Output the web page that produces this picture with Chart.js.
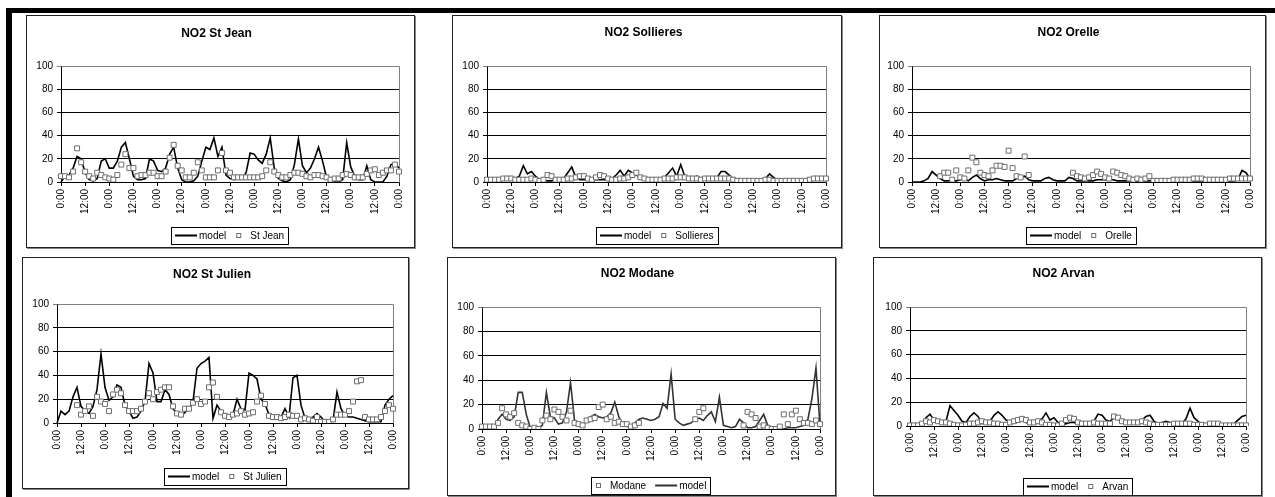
<!DOCTYPE html>
<html>
<head>
<meta charset="utf-8">
<script src="https://cdn.jsdelivr.net/npm/chart.js@4.4.1/dist/chart.umd.min.js"></script>
<style>
  body { margin: 0; background: #fff; width: 1275px; height: 497px; overflow: hidden; position: relative; }
  .bar { position: absolute; background: #000; }
  .panel { position: absolute; box-sizing: border-box; border: 1px solid #222; box-shadow: 1px 1px 0 #888; background: #fff; }
  .panel canvas { position: absolute; left: 0; top: 0; }
</style>
</head>
<body>
<div class="bar" style="left:6px;top:8px;width:1269px;height:5px"></div>
<div class="bar" style="left:6px;top:8px;width:6px;height:489px"></div>
<script>
// hourly offsets over the 7 days, one value every 2 hours
const HOURS = Array.from({ length: 85 }, (_, i) => i * 2);
const timeLabels = HOURS.map(h => (h % 24) + ':00');

// NO2 values, one row per day (0:00 .. 22:00), last value = final 0:00
const stJeanModel = [
  0, 5, 6, 12, 22, 20, 8, 2, 1, 3, 18, 20,
  12, 12, 18, 30, 34, 20, 5, 2, 2, 3, 20, 18,
  10, 9, 12, 24, 30, 12, 2, 0, 0, 1, 5, 18,
  30, 28, 38, 22, 30, 6, 3, 2, 3, 3, 8, 25,
  24, 19, 16, 24, 38, 12, 3, 1, 0, 2, 15, 37,
  14, 8, 12, 20, 30, 18, 4, 0, 0, 0, 2, 34,
  13, 5, 2, 2, 14, 2, 0, 0, 0, 5, 15, 16,
  12
];
const stJeanObs = [
  5, 5, 4, 9, 29, 17, 9, 5, 3, 8, 6, 4,
  3, 2, 6, 15, 24, 12, 12, 5, 6, 6, 8, 8,
  5, 5, 9, 21, 32, 14, 10, 4, 4, 8, 17, 10,
  4, 4, 4, 10, 25, 10, 8, 4, 4, 4, 4, 4,
  4, 4, 5, 10, 17, 9, 6, 4, 4, 6, 8, 8,
  7, 5, 4, 6, 6, 5, 4, 2, 3, 3, 6, 7,
  6, 4, 4, 4, 7, 10, 11, 6, 8, 10, 10, 15,
  9
];
const sollieresModel = [
  1, 1, 1, 2, 2, 2, 2, 3, 5, 14, 7, 9,
  5, 2, 1, 1, 1, 2, 2, 3, 8, 13, 4, 2,
  2, 2, 2, 2, 2, 2, 2, 3, 6, 10, 5, 10,
  8, 6, 4, 3, 2, 2, 2, 2, 4, 8, 12, 5,
  15, 5, 3, 3, 5, 3, 4, 3, 4, 4, 9, 9,
  6, 3, 1, 1, 1, 1, 1, 1, 1, 3, 7, 4,
  1, 1, 1, 1, 1, 1, 1, 1, 1, 2, 3, 3,
  3
];
const sollieresObs = [
  2, 2, 2, 2, 3, 3, 3, 2, 2, 2, 2, 3,
  2, 1, 2, 6, 5, 2, 2, 2, 3, 3, 4, 5,
  5, 3, 2, 4, 6, 5, 3, 2, 2, 3, 3, 4,
  6, 8, 4, 3, 2, 2, 2, 2, 3, 3, 3, 4,
  4, 4, 3, 3, 3, 2, 3, 3, 3, 3, 3, 3,
  3, 2, 1, 1, 1, 1, 1, 1, 1, 2, 2, 1,
  1, 1, 1, 1, 1, 1, 1, 1, 2, 3, 3, 3,
  3
];
const orelleModel = [
  0, 0, 0, 1, 3, 9, 6, 3, 1, 1, 1, 1,
  2, 3, 1, 4, 6, 3, 1, 2, 2, 3, 2, 1,
  1, 1, 3, 4, 5, 2, 1, 1, 1, 3, 4, 2,
  1, 1, 1, 4, 3, 1, 1, 1, 1, 1, 2, 2,
  2, 2, 2, 1, 1, 1, 1, 1, 1, 1, 1, 1,
  1, 1, 1, 1, 1, 1, 1, 1, 1, 1, 1, 1,
  1, 1, 1, 1, 1, 1, 1, 1, 1, 2, 10, 8,
  3
];
const orelleObs = [
  null, null, null, null, null, null, null, 5, 8, 8, 2, 10,
  4, 3, 10, 21, 17, 8, 6, 5, 10, 14, 14, 13,
  27, 12, 5, 4, 22, 6, null, null, null, null, null, null,
  null, null, null, null, 8, 5, 4, 3, 4, 6, 9, 7,
  4, 3, 9, 8, 6, 5, 3, 2, 3, 2, 3, 5,
  1, 1, 1, 1, 1, 2, 2, 2, 2, 2, 3, 3,
  3, 2, 2, 2, 2, 2, 2, 3, 3, 3, 3, 3,
  3
];
const stJulienModel = [
  0, 10, 7, 10, 22, 30, 14, 10, 8, 14, 28, 58,
  30, 19, 22, 32, 30, 15, 10, 4, 5, 10, 18, 50,
  42, 18, 18, 28, 24, 12, 8, 6, 9, 12, 18, 46,
  50, 52, 55, 4, 15, 10, 7, 6, 7, 20, 12, 11,
  42, 40, 37, 20, 16, 7, 5, 5, 5, 12, 5, 38,
  40, 15, 4, 2, 5, 8, 5, 1, 1, 2, 26, 12,
  6, 5, 5, 4, 3, 2, 1, 1, 1, 1, 15, 20,
  23
];
const stJulienObs = [
  null, null, null, null, null, 15, 7, 10, 14, 6, 22, 18,
  16, 10, 24, 28, 25, 15, 10, 10, 10, 12, 18, 25,
  20, 26, 28, 30, 30, 14, 8, 7, 12, 12, 17, 20,
  16, 18, 30, 34, 22, 9, 6, 5, 7, 8, 10, 7,
  8, 9, 18, 23, 16, 6, 5, 5, 4, 5, 7, 6,
  6, 3, 4, 3, 2, 5, 1, 1, 1, 3, 7, 7,
  7, 10, 18, 35, 36, 5, 3, 3, 3, 5, 10, 15,
  12
];
const modaneObs = [
  2, 2, 2, 2, 5, 17, 12, 10, 13, 5, 3, 2,
  0, 1, 0, 7, 11, 8, 16, 14, 10, 7, 15, 5,
  4, 3, 7, 8, 9, 18, 20, 8, 10, 5, 6, 4,
  4, 2, 3, 5, null, null, null, null, null, null, null, null,
  null, null, null, null, null, 8, 14, 17, null, null, null, null,
  null, null, null, null, null, 3, 14, 12, 9, 2, 3, 1,
  0, 0, 2, 12, 4, 12, 15, 8, 5, 5, 4, 7,
  4
];
const modaneModel = [
  1, 1, 1, 2, 8, 12, 8, 7, 10, 30, 30, 12,
  1, 1, 1, 3, 30, 10, 9, 4, 5, 14, 38, 7,
  3, 3, 7, 10, 12, 10, 9, 10, 13, 22, 10, 3,
  2, 2, 5, 8, 9, 8, 7, 8, 10, 21, 17, 45,
  8, 5, 3, 4, 5, 8, 9, 7, 11, 14, 6, 26,
  3, 2, 1, 2, 8, 5, 1, 1, 2, 7, 12, 3,
  1, 0, 0, 0, 1, 1, 1, 2, 3, 8, 25, 50,
  3
];
const arvanModel = [
  0, 0, 0, 2, 7, 10, 5, 3, 2, 4, 17, 13,
  9, 4, 3, 8, 11, 8, 2, 3, 4, 9, 12, 9,
  5, 4, 5, 6, 6, 3, 2, 3, 4, 6, 11, 5,
  7, 3, 1, 2, 3, 3, 2, 2, 2, 3, 4, 10,
  9, 5, 4, 7, 6, 3, 3, 3, 4, 4, 5, 8,
  9, 4, 2, 3, 4, 3, 2, 2, 2, 6, 15, 7,
  4, 1, 0, 0, 0, 0, 0, 0, 1, 2, 5, 8,
  9
];
const arvanObs = [
  0.5, 0.5, 0.5, 2, 4, 3, 5, 4, 3, 3, 2, 1,
  0.5, 0.5, 1, 2, 2, 3, 4, 3, 3, 2, 2, 1,
  1, 3, 4, 5, 6, 5, 3, 3, 4, 3, 1, 1,
  0.5, 0.5, 2, 5, 7, 6, 3, 2, 2, 2, 3, 2,
  2, 2, 2, 8, 7, 4, 3, 3, 3, 3, 4, 3,
  2, 1, 1, 1, 1, 1, 2, 2, 2, 2, 2, 1,
  1, 1, 0.5, 2, 2, 2, 0.5, 0.5, 0.5, 0.5, 0.5, 0.5,
  0.5
];

// page layout: box [x, y, w, h], plot [left, top, right, bottom]
const panels = [
  { title: 'NO2 St Jean', box: [26, 15, 389, 233], plot: [61, 66, 406, 182], titleY: 34, legendY: 235,
    series: [['model', stJeanModel, 'line'], ['St Jean', stJeanObs, 'obs']] },
  { title: 'NO2 Sollieres', box: [452, 15, 390, 233], plot: [487, 66, 834, 182], titleY: 33, legendY: 235,
    series: [['model', sollieresModel, 'line'], ['Sollieres', sollieresObs, 'obs']] },
  { title: 'NO2 Orelle', box: [879, 15, 387, 233], plot: [912, 66, 1257, 182], titleY: 33, legendY: 235,
    series: [['model', orelleModel, 'line'], ['Orelle', orelleObs, 'obs']] },
  { title: 'NO2 St Julien', box: [22, 257, 387, 232], plot: [57, 304, 401, 423], titleY: 275, legendY: 476,
    series: [['model', stJulienModel, 'line'], ['St Julien', stJulienObs, 'obs']] },
  { title: 'NO2 Modane', box: [447, 257, 389, 239], plot: [482, 307, 827, 429], titleY: 274, legendY: 485,
    series: [['Modane', modaneObs, 'obs'], ['model', modaneModel, 'line']], lineColor: '#333' },
  { title: 'NO2 Arvan', box: [873, 257, 389, 239], plot: [910, 307, 1253, 426], titleY: 274, legendY: 486,
    series: [['model', arvanModel, 'line'], ['Arvan', arvanObs, 'obs']] }
];

const FONT = '"Liberation Sans", Arial, sans-serif';
Chart.defaults.font.family = FONT;
Chart.defaults.color = '#000';

// gray plot border on top / right like Excel
const plotFrame = {
  id: 'plotFrame',
  beforeDatasetsDraw(chart) {
    const { ctx, chartArea: a } = chart;
    ctx.save();
    ctx.strokeStyle = '#808080';
    ctx.lineWidth = 1;
    ctx.beginPath();
    ctx.moveTo(Math.round(a.left) + 0.5, Math.round(a.top) + 0.5);
    ctx.lineTo(Math.round(a.right) + 0.5, Math.round(a.top) + 0.5);
    ctx.lineTo(Math.round(a.right) + 0.5, Math.round(a.bottom) + 0.5);
    ctx.stroke();
    ctx.restore();
  }
};

// boxed legend below the axis
const boxLegend = {
  id: 'boxLegend',
  afterDraw(chart, args, opts) {
    const ctx = chart.ctx;
    const a = chart.chartArea;
    ctx.save();
    ctx.font = '10px ' + FONT;
    const items = chart.data.datasets.map(ds => ({
      ds: ds,
      sym: ds.showLine === false ? 15 : 24,
      tw: ctx.measureText(ds.label).width
    }));
    const padX = 4, sep = 9, h = 17;
    let total = padX * 2;
    items.forEach((it, i) => { total += it.sym + it.tw + (i ? sep : 0); });
    let x = Math.round((a.left + a.right) / 2 - total / 2);
    const cy = opts.y;
    const top = Math.round(cy - h / 2);
    ctx.strokeStyle = '#000';
    ctx.lineWidth = 1;
    ctx.strokeRect(x + 0.5, top + 0.5, Math.round(total), h);
    x += padX;
    ctx.textBaseline = 'middle';
    ctx.fillStyle = '#000';
    items.forEach((it, i) => {
      if (i) x += sep;
      if (it.ds.showLine === false) {
        ctx.fillStyle = '#fff';
        ctx.fillRect(x + 1, cy - 2, 5, 5);
        ctx.strokeStyle = it.ds.pointBorderColor;
        ctx.strokeRect(x + 1.5, cy - 1.5, 4, 4);
      } else {
        ctx.strokeStyle = it.ds.borderColor;
        ctx.lineWidth = 2;
        ctx.beginPath();
        ctx.moveTo(x, cy + 0.5);
        ctx.lineTo(x + 22, cy + 0.5);
        ctx.stroke();
        ctx.lineWidth = 1;
      }
      x += it.sym;
      ctx.fillStyle = '#000';
      ctx.fillText(it.ds.label, x, cy + 1);
      x += it.tw;
    });
    ctx.restore();
  }
};

panels.forEach(p => {
  const [bx, by, bw, bh] = p.box;
  const [pl, pt, pr, pb] = p.plot;
  const div = document.createElement('div');
  div.className = 'panel';
  div.style.left = bx + 'px';
  div.style.top = by + 'px';
  div.style.width = bw + 'px';
  div.style.height = bh + 'px';
  const canvas = document.createElement('canvas');
  canvas.width = bw - 2;
  canvas.height = bh - 2;
  div.appendChild(canvas);
  document.body.appendChild(div);

  const ox = bx + 1, oy = by + 1;
  const titleTop = p.titleY - oy - 7.2;
  const titleBottom = (pt - oy) - titleTop - 14.4;

  const datasets = p.series.map(([label, data, kind]) => kind === 'line' ? {
    label: label, data: data, borderColor: p.lineColor || '#000', borderWidth: 1.6,
    pointRadius: 0, tension: 0, fill: false, spanGaps: true, order: 1
  } : {
    label: label, data: data, showLine: false, pointStyle: 'rect', pointRadius: 3.5,
    pointBorderColor: '#6e6e6e', pointBackgroundColor: '#fff', pointBorderWidth: 1, order: 0
  });

  new Chart(canvas, {
    type: 'line',
    data: { labels: timeLabels, datasets: datasets },
    options: {
      responsive: false,
      animation: false,
      events: [],
      layout: { padding: { left: 0, top: 0, bottom: 0, right: (bx + bw - 1) - pr } },
      plugins: {
        legend: { display: false },
        tooltip: { enabled: false },
        title: {
          display: true, text: p.title, color: '#000',
          font: { size: 12, weight: 'bold', family: FONT },
          padding: { top: titleTop, bottom: titleBottom }
        },
        boxLegend: { y: p.legendY - oy }
      },
      scales: {
        x: {
          type: 'category',
          offset: false,
          afterFit(scale) { scale.height = (by + bh - 1) - pb; },
          grid: {
            drawOnChartArea: false, drawTicks: true, tickLength: 4,
            color: c => (HOURS[c.index] % 12 === 0 ? '#000' : 'rgba(0,0,0,0)')
          },
          border: { display: true, color: '#000', width: 1 },
          ticks: {
            autoSkip: false, maxRotation: 90, minRotation: 90, padding: 3,
            font: { size: 10 }, color: '#000',
            callback: (v, i) => (HOURS[i] % 12 === 0 ? timeLabels[i] : '')
          }
        },
        y: {
          min: 0, max: 100,
          afterFit(scale) { scale.width = pl - ox; },
          grid: {
            drawTicks: true, tickLength: 4, lineWidth: 1,
            color: c => (c.tick && c.tick.value === 100 ? '#808080' : '#000')
          },
          border: { display: true, color: '#000', width: 1 },
          ticks: { stepSize: 20, padding: 4, font: { size: 10 }, color: '#000' }
        }
      }
    },
    plugins: [plotFrame, boxLegend]
  });
});
</script>
</body>
</html>
